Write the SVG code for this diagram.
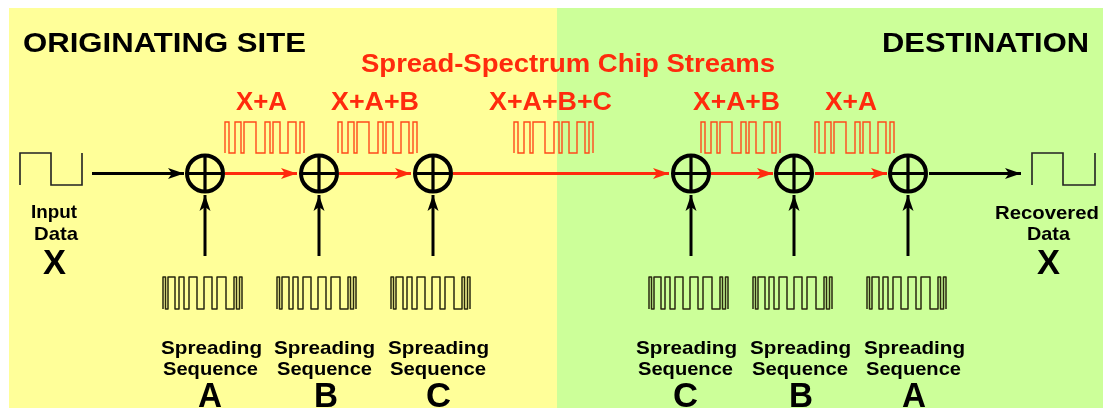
<svg xmlns="http://www.w3.org/2000/svg" xmlns:xlink="http://www.w3.org/1999/xlink" width="1105" height="408" viewBox="0 0 1105 408">
<style>
text{font-family:"Liberation Sans",Arial,sans-serif;font-weight:bold;fill:#000}
.title{font-size:28px}
.red{fill:#ff2a0a}
.chip{font-size:26px}
.head{font-size:25px}
.lab{font-size:19px}
.big{font-size:35px}
.wb{fill:none;stroke:#2a2a10;stroke-width:1.5;stroke-linejoin:round}
.wr{fill:none;stroke:#ff4a18;stroke-width:1.4}
.sq{fill:none;stroke:#222;stroke-width:1.6}
.xor circle{fill:none;stroke:#000;stroke-width:4}
.xor path{fill:none;stroke:#000;stroke-width:3.2}
.k{fill:none;stroke:#000;stroke-width:3}
.r{fill:none;stroke:#ff2a0a;stroke-width:3}
</style>
<defs>
<filter id="soft" filterUnits="userSpaceOnUse" x="0" y="0" width="1105" height="408"><feGaussianBlur stdDeviation="0.45"/></filter>
<marker id="ak" markerUnits="userSpaceOnUse" markerWidth="18" markerHeight="14" refX="16" refY="7" orient="auto"><path d="M0,1.5 L16,7 L0,12.5 L4,7 Z" fill="#000"/></marker>
<marker id="ar" markerUnits="userSpaceOnUse" markerWidth="18" markerHeight="14" refX="16" refY="7" orient="auto"><path d="M0,1.5 L16,7 L0,12.5 L4,7 Z" fill="#ff2a0a"/></marker>
<path id="bw" class="wb" d="M0,32 V0 H2.5 V32 H5 V0 H12 V32 H16 V0 H21 V32 H26 V0 H34 V32 H41 V0 H49 V32 H54 V0 H63 V32 H71 V0 H73.5 V32 H76.5 V0 H79 V32"/>
<path id="rw" class="wr" d="M0,31 V0 H4 V31 H10 V0 H16 V31 H19 V0 H31 V31 H40 V0 H45 V31 H48 V0 H55 V31 H63 V0 H71 V31 H75 V0 H79 V31"/>
</defs>
<g id="background">
<rect x="9" y="8" width="548" height="400" fill="#ffff99"/>
<rect x="557" y="8" width="546" height="400" fill="#ccff99"/>
</g>
<g id="diagram" filter="url(#soft)">
<g id="connectors">
<path class="k" d="M92,173.5 H184" marker-end="url(#ak)"/>
<path class="r" d="M225,173.5 H297" marker-end="url(#ar)"/>
<path class="r" d="M339,173.5 H411" marker-end="url(#ar)"/>
<path class="r" d="M453,173.5 H669" marker-end="url(#ar)"/>
<path class="r" d="M711,173.5 H773" marker-end="url(#ar)"/>
<path class="r" d="M815,173.5 H887" marker-end="url(#ar)"/>
<path class="k" d="M929,173.5 H1021" marker-end="url(#ak)"/>
<path class="k" d="M205,256 V195" marker-end="url(#ak)"/>
<path class="k" d="M319,256 V195" marker-end="url(#ak)"/>
<path class="k" d="M433,256 V195" marker-end="url(#ak)"/>
<path class="k" d="M691,256 V195" marker-end="url(#ak)"/>
<path class="k" d="M794,256 V195" marker-end="url(#ak)"/>
<path class="k" d="M908,256 V195" marker-end="url(#ak)"/>
</g>
<g id="headings">
<text class="title" x="23" y="52" textLength="283" lengthAdjust="spacingAndGlyphs">ORIGINATING SITE</text>
<text class="title" x="882" y="52" textLength="207" lengthAdjust="spacingAndGlyphs">DESTINATION</text>
<text class="head red" x="361" y="72" textLength="414" lengthAdjust="spacingAndGlyphs">Spread-Spectrum Chip Streams</text>
</g>
<g id="chip-xa-1"><text class="chip red" x="236" y="110" textLength="51" lengthAdjust="spacingAndGlyphs">X+A</text><use xlink:href="#rw" x="225" y="122"/></g>
<g id="chip-xab-1"><text class="chip red" x="331" y="110" textLength="88" lengthAdjust="spacingAndGlyphs">X+A+B</text><use xlink:href="#rw" x="338" y="122"/></g>
<g id="chip-xabc"><text class="chip red" x="489" y="110" textLength="123" lengthAdjust="spacingAndGlyphs">X+A+B+C</text><use xlink:href="#rw" x="514" y="122"/></g>
<g id="chip-xab-2"><text class="chip red" x="693" y="110" textLength="87" lengthAdjust="spacingAndGlyphs">X+A+B</text><use xlink:href="#rw" x="701" y="122"/></g>
<g id="chip-xa-2"><text class="chip red" x="825" y="110" textLength="52" lengthAdjust="spacingAndGlyphs">X+A</text><use xlink:href="#rw" x="815" y="122"/></g>
<g id="input">
<path class="sq" d="M20,185 V153 H51 V185 H82 V153"/>
<text class="lab" x="31" y="218" textLength="46" lengthAdjust="spacingAndGlyphs">Input</text>
<text class="lab" x="34" y="240" textLength="44" lengthAdjust="spacingAndGlyphs">Data</text>
<text class="big" x="43" y="274" textLength="23" lengthAdjust="spacingAndGlyphs">X</text>
</g>
<g id="output">
<path class="sq" d="M1032,185 V153 H1063 V185 H1095 V153"/>
<text class="lab" x="995" y="219" textLength="104" lengthAdjust="spacingAndGlyphs">Recovered</text>
<text class="lab" x="1027" y="240" textLength="43" lengthAdjust="spacingAndGlyphs">Data</text>
<text class="big" x="1037" y="274" textLength="23" lengthAdjust="spacingAndGlyphs">X</text>
</g>
<g id="xor-1" class="xor"><circle cx="205" cy="173.5" r="18"/><path d="M187,173.5 H223 M205,155 V192"/></g>
<g id="xor-2" class="xor"><circle cx="319" cy="173.5" r="18"/><path d="M301,173.5 H337 M319,155 V192"/></g>
<g id="xor-3" class="xor"><circle cx="433" cy="173.5" r="18"/><path d="M415,173.5 H451 M433,155 V192"/></g>
<g id="xor-4" class="xor"><circle cx="691" cy="173.5" r="18"/><path d="M673,173.5 H709 M691,155 V192"/></g>
<g id="xor-5" class="xor"><circle cx="794" cy="173.5" r="18"/><path d="M776,173.5 H812 M794,155 V192"/></g>
<g id="xor-6" class="xor"><circle cx="908" cy="173.5" r="18"/><path d="M890,173.5 H926 M908,155 V192"/></g>
<g id="seq-a-1"><use xlink:href="#bw" x="163" y="277"/><text class="lab" x="161" y="354" textLength="101" lengthAdjust="spacingAndGlyphs">Spreading</text><text class="lab" x="163" y="375" textLength="95" lengthAdjust="spacingAndGlyphs">Sequence</text><text class="big" x="198" y="407" textLength="24" lengthAdjust="spacingAndGlyphs">A</text></g>
<g id="seq-b-1"><use xlink:href="#bw" x="277" y="277"/><text class="lab" x="274" y="354" textLength="101" lengthAdjust="spacingAndGlyphs">Spreading</text><text class="lab" x="277" y="375" textLength="95" lengthAdjust="spacingAndGlyphs">Sequence</text><text class="big" x="314" y="407" textLength="24" lengthAdjust="spacingAndGlyphs">B</text></g>
<g id="seq-c-1"><use xlink:href="#bw" x="391" y="277"/><text class="lab" x="388" y="354" textLength="101" lengthAdjust="spacingAndGlyphs">Spreading</text><text class="lab" x="390" y="375" textLength="96" lengthAdjust="spacingAndGlyphs">Sequence</text><text class="big" x="426" y="407" textLength="25" lengthAdjust="spacingAndGlyphs">C</text></g>
<g id="seq-c-2"><use xlink:href="#bw" x="649" y="277"/><text class="lab" x="636" y="354" textLength="101" lengthAdjust="spacingAndGlyphs">Spreading</text><text class="lab" x="638" y="375" textLength="95" lengthAdjust="spacingAndGlyphs">Sequence</text><text class="big" x="673" y="407" textLength="25" lengthAdjust="spacingAndGlyphs">C</text></g>
<g id="seq-b-2"><use xlink:href="#bw" x="753" y="277"/><text class="lab" x="750" y="354" textLength="101" lengthAdjust="spacingAndGlyphs">Spreading</text><text class="lab" x="752" y="375" textLength="96" lengthAdjust="spacingAndGlyphs">Sequence</text><text class="big" x="789" y="407" textLength="24" lengthAdjust="spacingAndGlyphs">B</text></g>
<g id="seq-a-2"><use xlink:href="#bw" x="867" y="277"/><text class="lab" x="864" y="354" textLength="101" lengthAdjust="spacingAndGlyphs">Spreading</text><text class="lab" x="866" y="375" textLength="95" lengthAdjust="spacingAndGlyphs">Sequence</text><text class="big" x="902" y="407" textLength="24" lengthAdjust="spacingAndGlyphs">A</text></g>
</g>
</svg>
